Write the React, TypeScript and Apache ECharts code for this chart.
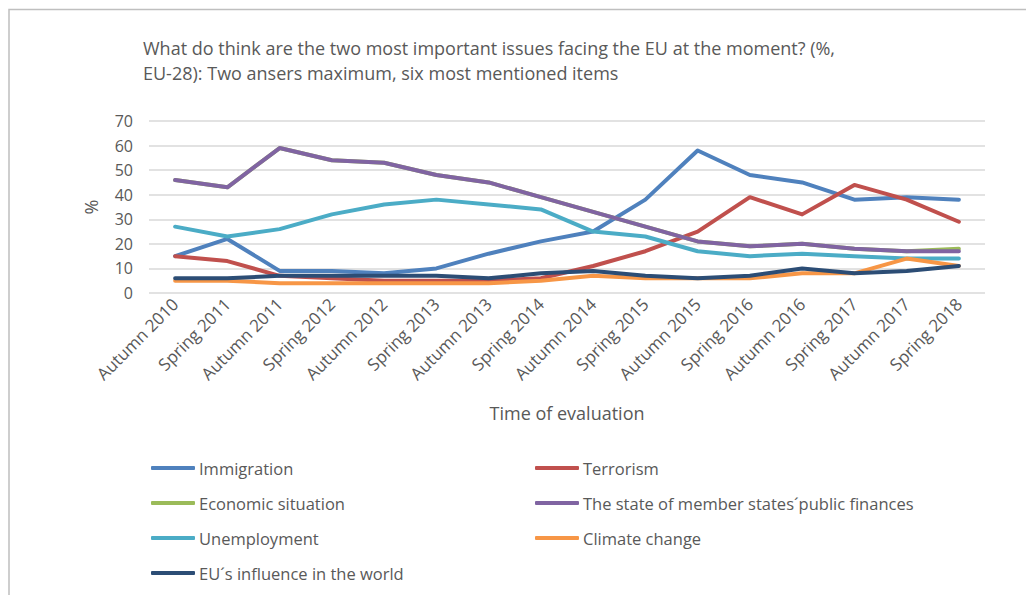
import React, { useEffect, useRef } from "react";
import * as echarts from "echarts";

const categories = [
  "Autumn 2010", "Spring 2011", "Autumn 2011", "Spring 2012", "Autumn 2012", "Spring 2013",
  "Autumn 2013", "Spring 2014", "Autumn 2014", "Spring 2015", "Autumn 2015", "Spring 2016",
  "Autumn 2016", "Spring 2017", "Autumn 2017", "Spring 2018",
];

const immigration = [15, 22, 9, 9, 8, 10, 16, 21, 25, 38, 58, 48, 45, 38, 39, 38];
const terrorism = [15, 13, 7, 6, 5, 5, 5, 6, 11, 17, 25, 39, 32, 44, 38, 29];
const economicSituation = [46, 43, 59, 54, 53, 48, 45, 39, 33, 27, 21, 19, 20, 18, 17, 18];
const publicFinances = [46, 43, 59, 54, 53, 48, 45, 39, 33, 27, 21, 19, 20, 18, 17, 17];
const unemployment = [27, 23, 26, 32, 36, 38, 36, 34, 25, 23, 17, 15, 16, 15, 14, 14];
const climateChange = [5, 5, 4, 4, 4, 4, 4, 5, 7, 6, 6, 6, 8, 8, 14, 11];
const euInfluence = [6, 6, 7, 7, 7, 7, 6, 8, 9, 7, 6, 7, 10, 8, 9, 11];

const seriesNames = [
  "Immigration",
  "Terrorism",
  "Economic situation",
  "The state of member states´public finances",
  "Unemployment",
  "Climate change",
  "EU´s influence in the world",
];
const seriesData = [immigration, terrorism, economicSituation, publicFinances, unemployment, climateChange, euInfluence];
const colors = ["#4F81BD", "#C0504D", "#9BBB59", "#8064A2", "#4BACC6", "#F79646", "#2C4D75"];

const yTicks = [0, 10, 20, 30, 40, 50, 60, 70];

const FONT = "'Open Sans', sans-serif";
const TXT = "#595959";

export default function App() {
  const ref = useRef<HTMLDivElement>(null);
  useEffect(() => {
    if (!ref.current) return;
    const chart = echarts.init(ref.current, undefined, { renderer: "svg" });
    const legendCommon = {
      orient: "vertical" as const,
      top: 449,
      padding: 0,
      itemWidth: 44,
      itemHeight: 4,
      itemGap: 13,
      icon: "roundRect",
      textStyle: { fontFamily: FONT, fontSize: 16.5, color: TXT, padding: [0, 0, 0, -1], lineHeight: 22 },
      selectedMode: false,
    };
    chart.setOption({
      animation: false,
      color: colors,
      textStyle: { fontFamily: FONT },
      title: {
        text: "What do think are the two most important issues facing the EU at the moment? (%,\nEU-28): Two ansers maximum, six most mentioned items",
        left: 135,
        top: 27,
        padding: 0,
        textStyle: { fontFamily: FONT, fontSize: 18, fontWeight: "normal", color: TXT, lineHeight: 25 },
      },
      graphic: [
        {
          type: "polyline",
          shape: { points: [[1, 700], [1, 1.5], [1100, 1.5]] },
          style: { stroke: "#bfbfbf", lineWidth: 1.5, fill: "none" },
          silent: true,
        },
      ],
      legend: [
        { ...legendCommon, left: 143, data: [seriesNames[0], seriesNames[2], seriesNames[4], seriesNames[6]] },
        { ...legendCommon, left: 527, data: [seriesNames[1], seriesNames[3], seriesNames[5]] },
      ],
      grid: { left: 141, right: 41, top: 113, height: 172, containLabel: false },
      xAxis: {
        type: "category",
        data: categories,
        boundaryGap: true,
        name: "Time of evaluation",
        nameLocation: "middle",
        nameGap: 111,
        nameTextStyle: { fontFamily: FONT, fontSize: 18, color: TXT },
        axisLine: { show: false },
        axisTick: { show: false },
        axisLabel: { rotate: 45, fontFamily: FONT, fontSize: 17, color: TXT, margin: 8, interval: 0 },
      },
      yAxis: {
        type: "value",
        min: yTicks[0],
        max: yTicks[yTicks.length - 1],
        interval: 10,
        name: "%",
        nameLocation: "middle",
        nameRotate: 90,
        nameGap: 49,
        nameTextStyle: { fontFamily: FONT, fontSize: 18, color: TXT },
        axisLine: { show: false },
        axisTick: { show: false },
        axisLabel: { fontFamily: FONT, fontSize: 16, color: TXT, margin: 16 },
        splitLine: { lineStyle: { color: "#d9d9d9", width: 1.5 } },
      },
      series: seriesNames.map((name, i) => ({
        name,
        type: "line",
        data: seriesData[i],
        symbol: "none",
        lineStyle: { width: 4, color: colors[i], cap: "round", join: "round" },
        itemStyle: { color: colors[i] },
      })),
    });
    return () => chart.dispose();
  }, []);
  return <div ref={ref} style={{ width: 1018, height: 587 }} />;
}
